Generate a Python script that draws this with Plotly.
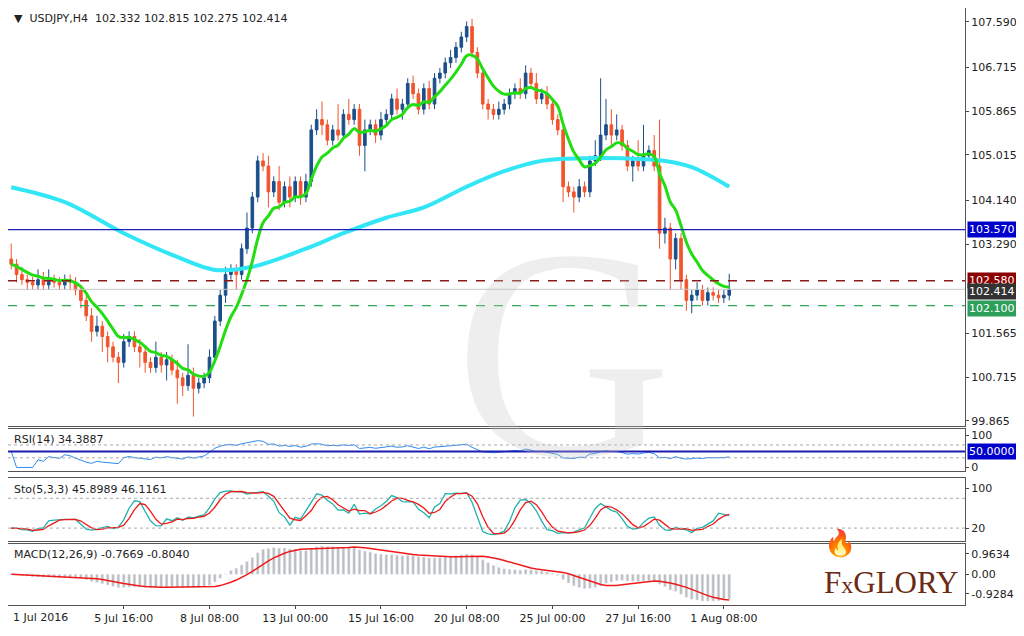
import numpy as np
import pandas as pd
import plotly.graph_objects as go
from plotly.subplots import make_subplots

## USDJPY H4 closes (one per candle)
closes = [102.9, 102.7, 102.6, 102.55, 102.5, 102.6,
          102.5, 102.6, 102.55, 102.5, 102.6, 102.55,
          102.4, 102.2, 101.9, 101.6, 101.7, 101.5,
          101.3, 101.1, 101.0, 101.4, 101.5, 101.3,
          101.2, 101.0, 100.9, 101.1, 100.95, 101.05,
          100.85, 100.7, 100.55, 100.75, 100.5, 100.6,
          100.7, 101.1, 101.8, 102.3, 102.7, 102.8,
          102.7, 103.2, 103.6, 104.2, 104.9, 104.8,
          104.3, 104.5, 104.1, 104.4, 104.2, 104.5,
          104.2, 104.5, 105.5, 105.7, 105.6, 105.3,
          105.5, 105.4, 105.8, 105.7, 105.9, 105.2,
          105.5, 105.6, 105.4, 105.7, 105.8, 106.1,
          105.9, 106.0, 106.4, 106.2, 105.9, 106.3,
          106.0, 106.5, 106.6, 106.8, 106.9, 107.1,
          107.3, 107.5, 107.0, 106.6, 106.0, 105.9,
          105.8, 105.9, 106.0, 106.2, 106.3, 106.2,
          106.6, 106.4, 106.1, 106.2, 106.0, 105.7,
          105.5, 104.4, 104.3, 104.2, 104.4, 104.3,
          104.9, 105.0, 105.4, 105.6, 105.4, 105.5,
          105.2, 104.8, 104.9, 104.8, 105.0, 105.1,
          104.8, 103.5, 103.6, 103.0, 103.4, 102.6,
          102.2, 102.3, 102.4, 102.2, 102.35, 102.3,
          102.25, 102.3, 102.414]
first_open = 103.0
## upper / lower wick lengths per candle
wick_up = [0.3, 0.1, 0.15, 0.1, 0.1, 0.2, 0.15, 0.2, 0.1, 0.1, 0.1, 0.1,
           0.1, 0.1, 0.1, 0.15, 0.2, 0.1, 0.1, 0.1, 0.1, 0.15, 0.1, 0.1,
           0.15, 0.1, 0.1, 0.3, 0.1, 0.15, 0.1, 0.2, 0.1, 0.6, 0.15, 0.1,
           0.1, 0.15, 0.1, 0.1, 0.15, 0.1, 0.1, 0.1, 0.3, 0.1, 0.1, 0.15,
           0.2, 0.1, 0.3, 0.1, 0.2, 0.1, 0.1, 0.15, 0.1, 0.2, 0.35, 0.1,
           0.1, 0.5, 0.1, 0.3, 0.1, 0.1, 0.2, 0.1, 0.1, 0.15, 0.1, 0.1,
           0.2, 0.1, 0.1, 0.15, 0.1, 0.1, 0.15, 0.1, 0.1, 0.1, 0.15, 0.1,
           0.1, 0.1, 0.15, 0.1, 0.1, 0.1, 0.1, 0.15, 0.1, 0.1, 0.1, 0.2,
           0.15, 0.1, 0.2, 0.1, 0.15, 0.1, 0.1, 0.1, 0.1, 0.1, 0.15, 0.1,
           0.1, 0.3, 1.1, 0.5, 0.3, 0.3, 0.1, 0.1, 0.1, 0.4, 0.6, 0.1,
           0.3, 0.9, 0.2, 0.1, 0.1, 0.1, 0.1, 0.1, 0.15, 0.1, 0.1, 0.1,
           0.1, 0.1, 0.3]
wick_dn = [0.1, 0.15, 0.1, 0.15, 0.1, 0.1, 0.1, 0.1, 0.1, 0.1, 0.1, 0.15,
           0.1, 0.15, 0.1, 0.2, 0.1, 0.3, 0.3, 0.1, 0.4, 0.1, 0.1, 0.1,
           0.3, 0.2, 0.1, 0.1, 0.15, 0.3, 0.1, 0.5, 0.2, 0.1, 0.55, 0.1,
           0.1, 0.1, 0.1, 0.1, 0.15, 0.1, 0.3, 0.1, 0.1, 0.1, 0.1, 0.1,
           0.3, 0.1, 0.15, 0.1, 0.2, 0.1, 0.15, 0.1, 0.1, 0.1, 0.2, 0.1,
           0.1, 0.1, 0.1, 0.1, 0.1, 0.2, 0.5, 0.1, 0.15, 0.1, 0.1, 0.1,
           0.1, 0.2, 0.1, 0.1, 0.1, 0.1, 0.1, 0.1, 0.1, 0.1, 0.1, 0.1,
           0.1, 0.1, 0.1, 0.1, 0.1, 0.2, 0.1, 0.1, 0.1, 0.1, 0.1, 0.1,
           0.1, 0.1, 0.1, 0.1, 0.1, 0.1, 0.1, 0.3, 0.1, 0.3, 0.1, 0.1,
           0.1, 0.1, 0.1, 0.1, 0.2, 0.1, 0.1, 0.1, 0.3, 0.1, 0.1, 0.1,
           0.1, 0.3, 0.2, 0.6, 0.2, 0.2, 0.2, 0.25, 0.1, 0.1, 0.1, 0.1,
           0.1, 0.1, 0.1]
## slow moving average (cyan), sampled along the line
ma_slow_idx = [0, 10, 21, 31, 38, 45, 55, 62, 70, 77, 85, 92, 99, 107, 114, 122, 127, 134]
ma_slow_val = [104.39, 104.1, 103.5, 103.04, 102.79, 102.85, 103.2, 103.5, 103.8,
               104.0, 104.4, 104.7, 104.9, 104.95, 104.95, 104.9, 104.78, 104.4]

tick_pos = [21, 37, 53, 69, 85, 101, 117, 133]
tick_txt = ['5 Jul 16:00', '8 Jul 08:00', '13 Jul 00:00', '15 Jul 16:00',
            '20 Jul 08:00', '25 Jul 00:00', '27 Jul 16:00', '1 Aug 08:00']
price_ticks = [107.590, 106.715, 105.865, 105.015, 104.140, 103.290, 101.565, 100.715, 99.865]
levels = {'res': 103.570, 'pivot': 102.580, 'last': 102.414, 'sup': 102.100}

c = pd.Series(closes)
o = pd.Series([first_open] + closes[:-1])
h = pd.concat([o, c], axis=1).max(axis=1) + pd.Series(wick_up)
l = pd.concat([o, c], axis=1).min(axis=1) - pd.Series(wick_dn)
x = list(range(len(closes)))

ma_fast = c.ewm(span=8, adjust=False).mean()
## RSI 14 (Wilder)
d = c.diff().fillna(0)
up = d.clip(lower=0).ewm(alpha=1/14, adjust=False).mean()
dn = (-d.clip(upper=0)).ewm(alpha=1/14, adjust=False).mean()
rsi = 100 - 100 / (1 + up / dn.replace(0, np.nan))
rsi = rsi.fillna(50)
## Stochastic 5,3,3
hh = h.rolling(5, min_periods=1).max()
ll = l.rolling(5, min_periods=1).min()
k = ((c - ll).rolling(3, min_periods=1).sum() / (hh - ll).rolling(3, min_periods=1).sum() * 100)
dline = k.rolling(3, min_periods=1).mean()
## MACD 12,26,9
macd = c.ewm(span=12, adjust=False).mean() - c.ewm(span=26, adjust=False).mean()
sig = macd.rolling(9, min_periods=1).mean()

fig = make_subplots(rows=4, cols=1, shared_xaxes=True, vertical_spacing=0.01)
fig.add_trace(go.Scatter(x=ma_slow_idx, y=ma_slow_val, mode='lines', line=dict(color='#33E6F5', width=4, shape='spline')), 1, 1)
fig.add_trace(go.Candlestick(x=x, open=o, high=h, low=l, close=c,
                             increasing=dict(line=dict(color='#1B4F8A', width=1), fillcolor='#1B4F8A'),
                             decreasing=dict(line=dict(color='#F2542D', width=1), fillcolor='#F2542D'),
                             whiskerwidth=0), 1, 1)
fig.add_trace(go.Scatter(x=x, y=ma_fast, mode='lines', line=dict(color='#22DD11', width=3, shape='spline')), 1, 1)

fig.add_hline(y=levels['res'], line=dict(color='#2222BB', width=1.2), row=1, col=1)
fig.add_hline(y=levels['pivot'], line=dict(color='#8B1A1A', width=1.3, dash='dash'), row=1, col=1)
fig.add_hline(y=levels['last'], line=dict(color='#C8C8C8', width=1), row=1, col=1)
fig.add_hline(y=levels['sup'], line=dict(color='#2EAA55', width=1.2, dash='dash'), row=1, col=1)

fig.add_trace(go.Scatter(x=x, y=rsi, mode='lines', line=dict(color='#2E8BF0', width=1)), 2, 1)
fig.add_hline(y=50, line=dict(color='#1C1CB0', width=2), row=2, col=1)
for lv in (70, 30):
    fig.add_hline(y=lv, line=dict(color='#AAAAAA', width=1, dash='dot'), row=2, col=1)

fig.add_trace(go.Scatter(x=x, y=k, mode='lines', line=dict(color='#20B2AA', width=1.3)), 3, 1)
fig.add_trace(go.Scatter(x=x, y=dline, mode='lines', line=dict(color='#F01818', width=1.3)), 3, 1)
for lv in (80, 20):
    fig.add_hline(y=lv, line=dict(color='#AAAAAA', width=1, dash='dot'), row=3, col=1)

fig.add_trace(go.Bar(x=x, y=macd, marker=dict(color='#BDBDBD'), width=0.5), 4, 1)
fig.add_trace(go.Scatter(x=x, y=sig, mode='lines', line=dict(color='#F01818', width=1.5)), 4, 1)

ax = dict(showgrid=False, zeroline=False, showline=True, linecolor='#555555', mirror=True,
          side='right', ticks='outside', ticklen=3, tickfont=dict(size=11, color='#222'))
fig.update_layout(
    width=1016, height=628, paper_bgcolor='white', plot_bgcolor='white', showlegend=False,
    margin=dict(l=0, r=59, t=0, b=31), font=dict(family='DejaVu Sans', size=11),
    yaxis=dict(ax, domain=[0.3, 1], range=[99.77, 107.86], tickvals=price_ticks,
               ticktext=['%.3f' % v for v in price_ticks]),
    yaxis2=dict(ax, domain=[0.225, 0.295], range=[-10, 120], tickvals=[100, 0], ticktext=['100', '0']),
    yaxis3=dict(ax, domain=[0.108, 0.212], range=[-5, 120], tickvals=[100, 20], ticktext=['100', '20']),
    yaxis4=dict(ax, domain=[0, 0.103], range=[-0.95, 0.95], tickvals=[0.63, 0, -0.6],
                ticktext=['0.9634', '0.00', '-0.9284']),
    bargap=0.5,
)
for i in range(1, 5):
    fig.update_xaxes(dict(showgrid=False, zeroline=False, showline=True, linecolor='#555555', mirror=True,
                          range=[-0.6, 178], rangeslider=dict(visible=False), showticklabels=(i == 4),
                          tickvals=tick_pos, ticktext=tick_txt, ticks='outside' if i == 4 else '',
                          ticklen=3, tickfont=dict(size=11, color='#222')), row=i, col=1)
fig.add_annotation(x=0, y=0, xref='x4', yref='paper', yshift=-4, text='1 Jul 2016', showarrow=False,
                   xanchor='left', yanchor='top', font=dict(size=11, color='#222'))

# watermark
fig.add_annotation(x=0.58, y=0.42, xref='paper', yref='paper', text='G', showarrow=False,
                   font=dict(size=300, color='rgba(200,200,200,0.3)', family='Liberation Serif'))

# panel titles
titles = [(1.0, '▼  USDJPY,H4  102.332 102.815 102.275 102.414'), (0.295, 'RSI(14) 34.3887'),
          (0.212, 'Sto(5,3,3) 45.8989 46.1161'), (0.103, 'MACD(12,26,9) -0.7669 -0.8040')]
for yy, t in titles:
    fig.add_annotation(x=0.004, y=yy - 0.004, xref='paper', yref='paper', text=t, showarrow=False,
                       xanchor='left', yanchor='top', font=dict(size=11, color='#222'))

# right axis price boxes
boxes = [(levels['res'], 'y', '#0000CC', '103.570'), (levels['pivot'], 'y', '#8B0000', '102.580'),
         (levels['last'] - 0.05, 'y', '#333333', '102.414'), (levels['sup'] - 0.05, 'y', '#2E9E5B', '102.100'),
         (50, 'y2', '#0000CC', '50.0000')]
for yy, ref, col, t in boxes:
    fig.add_annotation(x=1.002, y=yy, xref='paper', yref=ref, text=t, showarrow=False, xanchor='left',
                       bgcolor=col, font=dict(size=11, color='white'), borderpad=1)

# logo
fig.add_annotation(x=0.995, y=0.005, xref='paper', yref='paper', text='F<span style="font-size:24px">x</span>GLORY',
                   showarrow=False, xanchor='right', yanchor='bottom',
                   font=dict(size=31, color='#6B2A12', family='Liberation Serif'))
fig.add_annotation(x=0.888, y=0.075, xref='paper', yref='paper', text='🔥', showarrow=False,
                   font=dict(size=26, color='#F0A020'))

fig.write_html("out.html")
